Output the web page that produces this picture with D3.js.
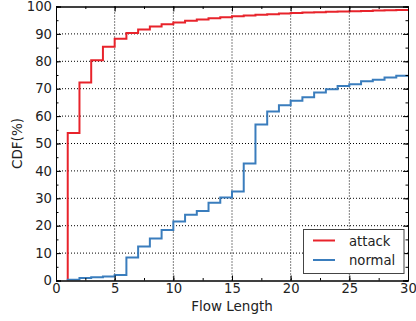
<!DOCTYPE html>
<html>
<head>
<meta charset="utf-8">
<script src="https://cdn.jsdelivr.net/npm/d3@7"></script>
<style>
  body { margin: 0; background: #fff; }
  text { font-family: "DejaVu Sans", sans-serif; fill: #222; }
</style>
</head>
<body>
<div id="chart"></div>
<script>
var svgWidth = 416;
var svgHeight = 321;

var margin = { top: 6.5, right: 8, bottom: 40.5, left: 56 };
var width = svgWidth - margin.left - margin.right;
var height = svgHeight - margin.top - margin.bottom;

// flow length steps 1..30
var flowLength = d3.range(1, 31);
// CDF(%)
var attackCdf = [53.8, 72.3, 80.4, 85.3, 88.2, 90.3, 91.6, 92.7, 93.5, 94.2,
  94.8, 95.3, 95.7, 96.1, 96.4, 96.7, 97.0, 97.2, 97.4, 97.6,
  97.8, 97.9, 98.1, 98.2, 98.3, 98.4, 98.5, 98.6, 98.7, 98.8];
var normalCdf = [0.3, 0.9, 1.2, 1.5, 2.0, 8.4, 12.4, 15.3, 18.4, 21.5,
  24.0, 25.4, 28.4, 30.3, 32.5, 42.7, 56.9, 61.7, 64.0, 65.6,
  66.9, 68.6, 69.8, 71.0, 71.6, 72.7, 73.3, 74.1, 74.7, 75.0];

var xTicks = [0, 5, 10, 15, 20, 25, 30];
var yTicks = [0, 10, 20, 30, 40, 50, 60, 70, 80, 90, 100];
var seriesNames = ["attack", "normal"];
var seriesColors = ["#e8232b", "#3a7dbd"];

var svg = d3.select("#chart").append("svg")
  .attr("width", svgWidth)
  .attr("height", svgHeight);

var chartGroup = svg.append("g")
  .attr("transform", `translate(${margin.left}, ${margin.top})`);

var x = d3.scaleLinear().domain([0, 30]).range([0, width]);
var y = d3.scaleLinear().domain([0, 100]).range([height, 0]);

// dotted grid
chartGroup.append("g").selectAll("line").data(xTicks.slice(1, -1)).enter()
  .append("line")
  .attr("x1", d => x(d)).attr("x2", d => x(d))
  .attr("y1", 0).attr("y2", height)
  .attr("stroke", "#000").attr("stroke-width", 1)
  .attr("stroke-dasharray", "1,2");
chartGroup.append("g").selectAll("line").data(yTicks.slice(1, -1)).enter()
  .append("line")
  .attr("y1", d => y(d)).attr("y2", d => y(d))
  .attr("x1", 0).attr("x2", width)
  .attr("stroke", "#000").attr("stroke-width", 1)
  .attr("stroke-dasharray", "1,2");

chartGroup.append("clipPath").attr("id", "clip")
  .append("rect").attr("width", width).attr("height", height);

var line = d3.line()
  .x(d => x(d[0]))
  .y(d => y(d[1]))
  .curve(d3.curveStepAfter);

function stepPoints(vals) {
  var pts = [[flowLength[0], 0]];
  flowLength.forEach(function(f, i) { pts.push([f, vals[i]]); });
  pts.push([30, vals[vals.length - 1]]);
  return pts;
}

[attackCdf, normalCdf].forEach(function(vals, i) {
  chartGroup.append("path")
    .attr("clip-path", "url(#clip)")
    .attr("d", line(stepPoints(vals)))
    .attr("fill", "none")
    .attr("stroke", seriesColors[i])
    .attr("stroke-width", 2);
});

// axes with inward ticks
var xMinor = d3.range(0, 30.01, 2.5);
var yMinor = d3.range(0, 100.01, 5);

chartGroup.append("g")
  .attr("transform", `translate(0, ${height})`)
  .call(d3.axisBottom(x).tickValues(xTicks).tickSize(-5).tickPadding(3).tickFormat(d3.format("d")));
chartGroup.append("g")
  .call(d3.axisTop(x).tickValues(xTicks).tickSize(-5).tickFormat(""));
chartGroup.append("g")
  .call(d3.axisLeft(y).tickValues(yTicks).tickSize(-5).tickPadding(4).tickFormat(d3.format("d")));
chartGroup.append("g")
  .attr("transform", `translate(${width}, 0)`)
  .call(d3.axisRight(y).tickValues(yTicks).tickSize(-5).tickFormat(""));

// minor ticks
chartGroup.append("g").attr("transform", `translate(0, ${height})`)
  .call(d3.axisBottom(x).tickValues(xMinor).tickSize(-2.5).tickFormat(""));
chartGroup.append("g")
  .call(d3.axisTop(x).tickValues(xMinor).tickSize(-2.5).tickFormat(""));
chartGroup.append("g")
  .call(d3.axisLeft(y).tickValues(yMinor).tickSize(-2.5).tickFormat(""));
chartGroup.append("g").attr("transform", `translate(${width}, 0)`)
  .call(d3.axisRight(y).tickValues(yMinor).tickSize(-2.5).tickFormat(""));

chartGroup.selectAll(".domain").attr("stroke", "#000");
chartGroup.selectAll(".tick line").attr("stroke", "#000");
chartGroup.selectAll(".tick text")
  .attr("font-size", 13.2)
  .attr("font-family", "DejaVu Sans")
  .attr("fill", "#222");

// axis labels
svg.append("text")
  .attr("x", margin.left + width / 2)
  .attr("y", 311)
  .attr("text-anchor", "middle")
  .attr("font-size", 13.5)
  .text("Flow Length");

svg.append("text")
  .attr("transform", `translate(22, ${margin.top + height / 2}) rotate(-90)`)
  .attr("text-anchor", "middle")
  .attr("font-size", 13.5)
  .text("CDF(%)");

// legend
var legend = svg.append("g");
legend.append("rect")
  .attr("x", 303.5).attr("y", 229.5)
  .attr("width", 100.5).attr("height", 44)
  .attr("fill", "#fff")
  .attr("stroke", "#444").attr("stroke-width", 1);

seriesNames.forEach(function(name, i) {
  var ly = 240.5 + i * 19.5;
  legend.append("line")
    .attr("x1", 313).attr("x2", 335)
    .attr("y1", ly).attr("y2", ly)
    .attr("stroke", seriesColors[i]).attr("stroke-width", 2);
  legend.append("text")
    .attr("x", 349).attr("y", ly + 5)
    .attr("font-size", 13.2)
    .text(name);
});
</script>
</body>
</html>
